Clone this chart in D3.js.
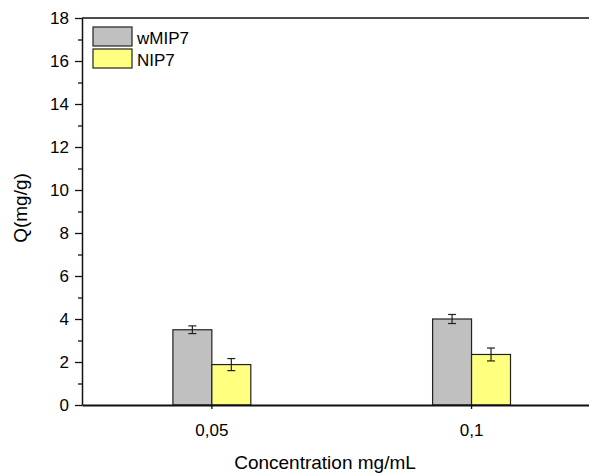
<!DOCTYPE html>
<html>
<head>
<meta charset="utf-8">
<script src="https://cdn.jsdelivr.net/npm/d3@7"></script>
<style>
  html, body { margin: 0; background: #fff; overflow: hidden; }
  svg { display: block; }
  text { font-family: "Liberation Sans", Arial, sans-serif; fill: #000; }
</style>
</head>
<body>
<div id="chart"></div>
<script>
(function () {
    var width = 589,
        height = 474;

    // data
    var categories = ["0,05", "0,1"];
    var series = ["wMIP7", "NIP7"];
    var colors = ["#c0c0c0", "#ffff80"];
    var wMIP7 = [3.50, 4.00];
    var wMIP7Err = [0.18, 0.21];
    var NIP7 = [1.88, 2.35];
    var NIP7Err = [0.28, 0.30];
    var yTicks = [0, 2, 4, 6, 8, 10, 12, 14, 16, 18];

    var values = [wMIP7, NIP7];
    var errors = [wMIP7Err, NIP7Err];

    var margin = {top: 18, left: 82, bottom: 69};
    var plotBottom = height - margin.bottom;

    var svg = d3.select("#chart")
        .append("svg")
        .attr("width", width)
        .attr("height", height);

    // the plot box runs off the right side of the picture
    var x = d3.scaleBand()
        .domain(categories)
        .range([margin.left, margin.left + 2 * 259.7])
        .padding(0);

    var bw = x.bandwidth();
    var xInner = d3.scaleBand()
        .domain(series)
        .range([bw * 0.35, bw * 0.65]);

    var y = d3.scaleLinear()
        .domain([0, 18])
        .range([plotBottom, margin.top]);

    var rows = [];
    series.forEach(function (s, si) {
        categories.forEach(function (c, ci) {
            rows.push({s: s, si: si, c: c, v: values[si][ci], e: errors[si][ci]});
        });
    });

    // bars
    svg.selectAll(".bar")
        .data(rows)
        .enter().append("rect")
        .attr("class", "bar")
        .attr("x", function (d) { return x(d.c) + xInner(d.s); })
        .attr("y", function (d) { return y(d.v); })
        .attr("width", xInner.bandwidth())
        .attr("height", function (d) { return plotBottom - y(d.v); })
        .attr("fill", function (d) { return colors[d.si]; })
        .attr("stroke", "#222")
        .attr("stroke-width", 1.2);

    // error bars
    var eb = svg.selectAll(".err")
        .data(rows)
        .enter().append("g")
        .attr("class", "err")
        .attr("stroke", "#222")
        .attr("stroke-width", 1.2)
        .attr("transform", function (d) {
            return "translate(" + (x(d.c) + xInner(d.s) + xInner.bandwidth() / 2) + ",0)";
        });
    eb.append("line")
        .attr("y1", function (d) { return y(d.v + d.e); })
        .attr("y2", function (d) { return y(d.v - d.e); });
    eb.append("line")
        .attr("x1", -4).attr("x2", 4)
        .attr("y1", function (d) { return y(d.v + d.e); })
        .attr("y2", function (d) { return y(d.v + d.e); });
    eb.append("line")
        .attr("x1", -4).attr("x2", 4)
        .attr("y1", function (d) { return y(d.v - d.e); })
        .attr("y2", function (d) { return y(d.v - d.e); });

    // y axis
    var yAxis = svg.append("g")
        .attr("transform", "translate(" + margin.left + ",0)")
        .call(d3.axisLeft(y).tickValues(yTicks).tickSize(7).tickSizeOuter(0).tickPadding(6));
    yAxis.select(".domain").attr("stroke", "#111").attr("stroke-width", 1.5);
    yAxis.selectAll(".tick line").attr("stroke", "#111").attr("stroke-width", 1.3);
    yAxis.selectAll("text").style("font-size", "17px");

    // minor ticks
    svg.append("g")
        .attr("transform", "translate(" + margin.left + ",0)")
        .call(d3.axisLeft(y).tickValues(d3.range(1, 18, 2)).tickSize(4).tickFormat(""))
        .call(function (g) { g.select(".domain").remove(); })
        .selectAll(".tick line").attr("stroke", "#111").attr("stroke-width", 1.3);

    // x axis
    var xAxis = svg.append("g")
        .attr("transform", "translate(0," + plotBottom + ")")
        .call(d3.axisBottom(x).tickSize(4).tickSizeOuter(0).tickPadding(14.5));
    xAxis.select(".domain").attr("stroke", "#111").attr("stroke-width", 2);
    xAxis.selectAll(".tick line").attr("stroke", "#111").attr("stroke-width", 1.3);
    xAxis.selectAll("text").style("font-size", "17px");

    // top frame
    svg.append("line")
        .attr("x1", margin.left).attr("x2", x.range()[1])
        .attr("y1", margin.top).attr("y2", margin.top)
        .attr("stroke", "#111").attr("stroke-width", 1.5);

    // axis titles
    svg.append("text")
        .attr("x", 325)
        .attr("y", 469)
        .attr("text-anchor", "middle")
        .style("font-size", "19px")
        .text("Concentration mg/mL");

    svg.append("text")
        .attr("transform", "translate(27,208) rotate(-90)")
        .attr("text-anchor", "middle")
        .style("font-size", "19px")
        .text("Q(mg/g)");

    // legend
    var legend = svg.selectAll(".legend")
        .data(series)
        .enter().append("g")
        .attr("class", "legend")
        .attr("transform", function (d, i) {
            return "translate(93," + (27 + i * 22) + ")";
        });
    legend.append("rect")
        .attr("width", 39)
        .attr("height", 19)
        .attr("fill", function (d, i) { return colors[i]; })
        .attr("stroke", "#222")
        .attr("stroke-width", 1.2);
    legend.append("text")
        .attr("x", 44)
        .attr("y", 17)
        .style("font-size", "17px")
        .text(function (d) { return d; });
})();
</script>
</body>
</html>
